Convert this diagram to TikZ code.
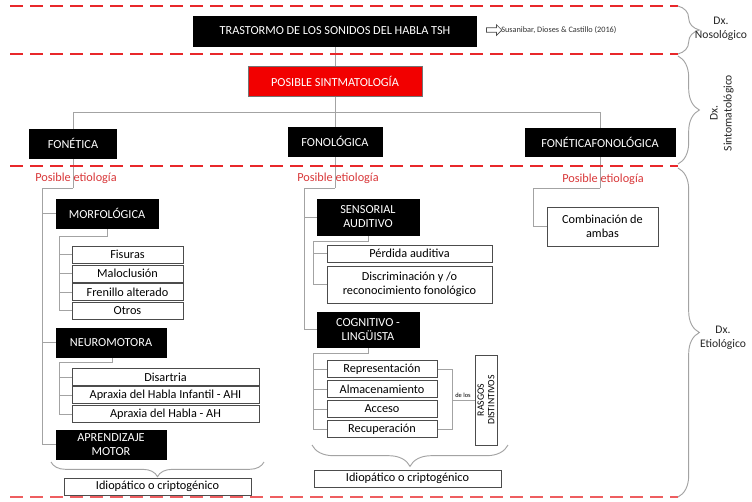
\documentclass[tikz,border=0pt]{standalone}
\usepackage{fontspec}
\setmainfont{Carlito}
\usetikzlibrary{backgrounds,decorations.pathreplacing,shapes.arrows}
\definecolor{dxred}{HTML}{E8282B}
\definecolor{etred}{HTML}{D9383A}
\definecolor{cgray}{HTML}{A3A3A3}
\definecolor{boxred}{HTML}{F20000}
\tikzset{
 sz/.style args={#1x#2}{minimum width=#1*0.75pt, minimum height=#2*0.75pt},
 blk/.style={fill=black, draw=black, text=white, inner sep=0pt, align=center, font=\fontsize{9.2}{10.5}\selectfont},
 redbox/.style={fill=boxred, draw=black!55, line width=0.6pt, text=white, inner sep=0pt, align=center, font=\fontsize{9.2}{10.5}\selectfont},
 itembox/.style={draw=black!70, fill=white, inner sep=0pt, align=center, line width=0.6pt, font=\fontsize{9.2}{10.5}\selectfont},
 conn/.style={draw=cgray, line width=0.7pt},
 sepline/.style={draw=dxred, line width=1.9pt, dash pattern=on 10pt off 5pt},
 brc/.style={draw=cgray, line width=0.7pt, decorate, decoration={brace, amplitude=#1}},
 etio/.style={text=etred, font=\fontsize{9.2}{10.5}\selectfont, inner sep=0pt},
 dxlab/.style={align=center, font=\fontsize{8.7}{10.5}\selectfont, inner sep=0pt, text=black!85},
}
\begin{document}
\begin{tikzpicture}[x=0.75pt,y=-0.75pt]
\useasboundingbox (0,0) rectangle (752,501);

% separators
\coordinate (s1a) at (10,6);   \coordinate (s1b) at (678,6);
\coordinate (s2a) at (10,54);  \coordinate (s2b) at (678,54);
\coordinate (s3a) at (10,166); \coordinate (s3b) at (678,166);
\coordinate (s4a) at (10,497); \coordinate (s4b) at (678,497);
\draw[sepline] (s1a) -- (s1b);
\draw[sepline] (s2a) -- (s2b);
\draw[sepline] (s3a) -- (s3b);
\draw[sepline, draw=dxred!75, line width=1.5pt] (s4a) -- (s4b);

% right braces
\draw[brc=16pt] (s1b) -- (s2b);
\draw[brc=16pt] ([yshift=-1.5pt]s2b) -- ([yshift=1.5pt]s3b);
\draw[brc=16pt] ([yshift=-1.5pt]s3b) -- (s4b);
\node[dxlab] (dx1) at (721,29) {Dx.\\Nosológico};
\node[dxlab, rotate=90] (dx2) at (722,113) {Dx.\\Sintomatológico};
\node[dxlab] (dx3) at (723,338) {Dx.\\Etiológico};

% top level
\node[blk, sz=283x30] (tsh) at (335,31) {TRASTORMO DE LOS SONIDOS DEL HABLA TSH};
\node[single arrow, draw=black!70, line width=0.5pt, fill=white, minimum height=11.5pt, minimum width=8pt, single arrow head extend=1.5pt, inner sep=0.8pt] (arr) at (493,30) {};
\node[anchor=west, inner sep=0pt, font=\fontsize{6.2}{7}\selectfont, text=black!80] (ref) at (501,30) {Susanibar, Dioses \& Castillo (2016)};
\node[redbox, sz=174x30] (sint) at (335,81) {POSIBLE SINTMATOLOGÍA};

\node[blk, sz=87x29] (fonet) at (73,143.5) {FONÉTICA};
\node[blk, sz=94x29] (fonol) at (335,141.5) {FONOLÓGICA};
\node[blk, sz=150x28] (fonfon) at (600,142) {FONÉTICAFONOLÓGICA};

% etiology labels
\node[etio] (pe1) at (76,178) {Posible etiología};
\node[etio] (pe2) at (338,178) {Posible etiología};
\node[etio] (pe3) at (603,179) {Posible etiología};

% left column
\node[blk, sz=102x29] (morf) at (107,213.5) {MORFOLÓGICA};
\node[itembox, sz=111x17] (fis) at (127.5,254.5) {Fisuras};
\node[itembox, sz=111x17] (mal) at (127.5,273.5) {Maloclusión};
\node[itembox, sz=111x17] (fren) at (127.5,292) {Frenillo alterado};
\node[itembox, sz=111x17] (otros) at (127.5,310.5) {Otros};
\node[blk, sz=110x29] (neuro) at (111,342.5) {NEUROMOTORA};
\node[itembox, sz=187x17] (dis) at (165.5,377) {Disartria};
\node[itembox, sz=187x17] (ahi) at (165.5,395) {Apraxia del Habla Infantil - AHI};
\node[itembox, sz=187x17] (ah) at (165.5,414) {Apraxia del Habla - AH};
\node[blk, sz=110x29] (aprend) at (111,444.5) {APRENDIZAJE\\MOTOR};
\node[itembox, sz=187x17] (idio1) at (157.5,486.5) {Idiopático o criptogénico};

% middle column
\node[blk, sz=102x36] (sens) at (368,217) {SENSORIAL\\AUDITIVO};
\node[itembox, sz=165x17] (perd) at (409.5,253.5) {Pérdida auditiva};
\node[itembox, sz=165x37] (disc) at (409.5,284.5) {Discriminación y /o\\reconocimiento fonológico};
\node[blk, sz=102x35] (cog) at (368,329.5) {COGNITIVO -\\LINGÜISTA};
\node[itembox, sz=110x17] (rep) at (382,369) {Representación};
\node[itembox, sz=110x17] (alm) at (382,389) {Almacenamiento};
\node[itembox, sz=110x17] (acc) at (382,409) {Acceso};
\node[itembox, sz=110x17] (rec) at (382,429) {Recuperación};
\node[itembox, rotate=90, font=\fontsize{7.3}{8}\selectfont, minimum width=90*0.75pt, minimum height=22*0.75pt] (rasgos) at (486,400) {RASGOS\\DISTINTIVOS};
\node[inner sep=0pt, font=\fontsize{4.8}{5}\selectfont] (delos) at (463,395) {de los};
\node[itembox, sz=187x17] (idio2) at (407.5,478.5) {Idiopático o criptogénico};

% right column
\node[itembox, sz=111x39] (comb) at (602.5,226.5) {Combinación de\\ambas};

% connectors
\coordinate (bar) at (0,112);
\coordinate (c1) at (73,188);
\coordinate (c2) at (335,188);
\coordinate (c3) at (600,188);
\coordinate (l1) at (42,188);
\coordinate (m1) at (304,188);
\coordinate (r1) at (533,188);
\coordinate (mt) at (59,236);
\coordinate (nt) at (59,362);
\coordinate (st) at (313,241);
\coordinate (ct) at (313,353);
\coordinate (rb) at (452,369);
\coordinate (rl) at (452,400);
\begin{scope}[on background layer]
\fill[white] (0,0) rectangle (752,501);
\draw[conn] (tsh.south) -- (c2);
\draw[conn] (fonet.north |- bar) -- (fonfon.north |- bar);
\draw[conn] (fonet.north |- bar) -- (c1);
\draw[conn] (fonfon.north |- bar) -- (c3);
% left tree
\draw[conn] (c1) -- (l1) -- (l1 |- aprend.west) -- (aprend.west);
\draw[conn] (l1 |- morf.west) -- (morf.west);
\draw[conn] (l1 |- neuro.west) -- (neuro.west);
\draw[conn] (morf.south) |- (mt) -- (mt |- otros.west) -- (otros.west);
\foreach \n in {fis,mal,fren} \draw[conn] (mt |- \n.west) -- (\n.west);
\draw[conn] ([xshift=0.75pt]neuro.south) |- (nt) -- (nt |- ah.west) -- (ah.west);
\foreach \n in {dis,ahi} \draw[conn] (nt |- \n.west) -- (\n.west);
% middle tree
\draw[conn] (c2) -- (m1) -- (m1 |- cog.west) -- (cog.west);
\draw[conn] (m1 |- sens.west) -- (sens.west);
\draw[conn] (sens.south) |- (st) -- (st |- disc.west) -- (disc.west);
\draw[conn] (st |- perd.west) -- (perd.west);
\draw[conn] (cog.south) |- (ct) -- (ct |- rec.west) -- (rec.west);
\foreach \n in {rep,alm,acc} \draw[conn] (ct |- \n.west) -- (\n.west);
\draw[conn] (rep.east) -- (rb) -- (rb |- rec.east) -- (rec.east);
\draw[conn] (rl) -- (rl -| rasgos.north);
% right tree
\draw[conn] (c3) -- (r1) -- (r1 |- comb.west) -- (comb.west);
\end{scope}

% bottom braces
\coordinate (b1a) at (51,462); \coordinate (b1b) at (264,462);
\coordinate (b2a) at (312,445); \coordinate (b2b) at (508,445);
\draw[brc=11pt, decoration={mirror}] (b1a) -- (b1b);
\draw[brc=16pt, decoration={mirror}] (b2a) -- (b2b);
\end{tikzpicture}
\end{document}
